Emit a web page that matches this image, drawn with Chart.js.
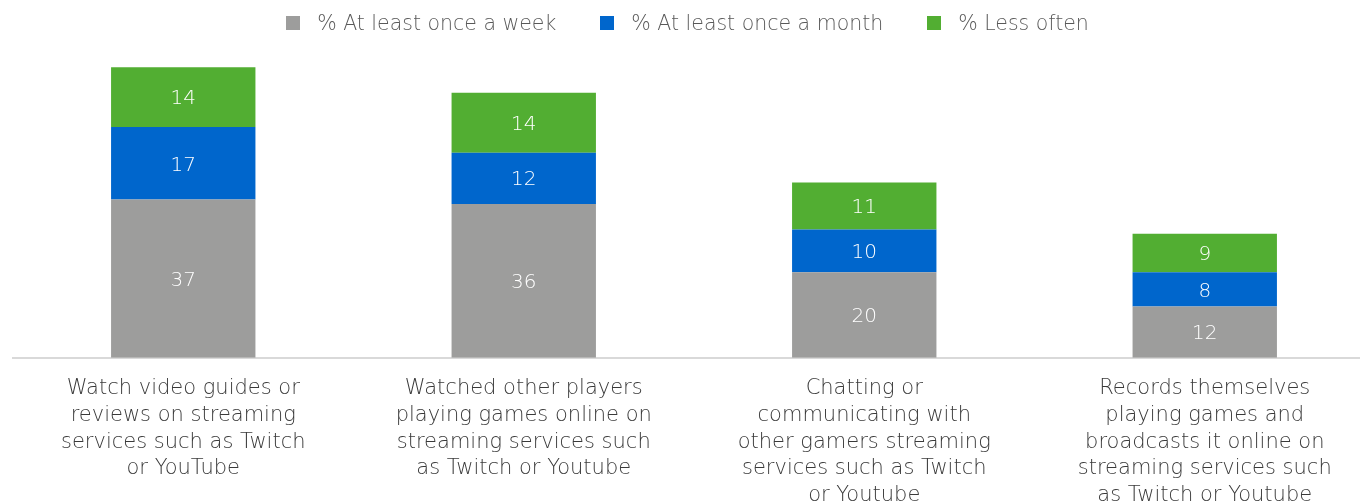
<!DOCTYPE html>
<html>
<head>
<meta charset="utf-8">
<script src="https://cdn.jsdelivr.net/npm/chart.js@4"></script>
<style>
  html, body { margin: 0; padding: 0; background: #fff; overflow: hidden; }
  #wrap { position: relative; width: 1375px; height: 519px; }
  #legend { position: absolute; top: 11px; left: 0; width: 1375px; display: flex; justify-content: center;
            padding-left: 0; box-sizing: border-box;
            font: 200 20.5px 'DejaVu Sans', sans-serif; color: #595959; z-index: 2; }
  .item { display: flex; align-items: center; margin: 0 22px; white-space: nowrap; }
  .box { width: 14px; height: 14px; margin-right: 17px; }
</style>
</head>
<body>
<div id="wrap">
  <div id="legend"></div>
  <canvas id="streamChart" width="1375" height="519"></canvas>
</div>
<script>
const categories = [
    ['Watch video guides or', 'reviews on streaming', 'services such as Twitch', 'or YouTube'],
    ['Watched other players', 'playing games online on', 'streaming services such', 'as Twitch or Youtube'],
    ['Chatting or', 'communicating with', 'other gamers streaming', 'services such as Twitch', 'or Youtube'],
    ['Records themselves', 'playing games and', 'broadcasts it online on', 'streaming services such', 'as Twitch or Youtube']
];
const weekly = [37, 36, 20, 12];
const monthly = [17, 12, 10, 8];
const lessOften = [14, 14, 11, 9];

const fontFamily = "'DejaVu Sans', sans-serif";

// white value labels in the middle of each segment
const segmentLabels = {
    id: 'segmentLabels',
    afterDatasetsDraw(chart) {
        const ctx = chart.ctx;
        ctx.save();
        ctx.fillStyle = '#ffffff';
        ctx.font = '200 20px ' + fontFamily;
        ctx.textAlign = 'center';
        ctx.textBaseline = 'middle';
        chart.data.datasets.forEach((ds, i) => {
            const meta = chart.getDatasetMeta(i);
            meta.data.forEach((bar, j) => {
                const mid = (bar.y + bar.base) / 2;
                ctx.fillText(String(ds.data[j]), bar.x, mid + 2);
            });
        });
        ctx.restore();
    }
};

const ctx = document.getElementById('streamChart').getContext('2d');
const streamChart = new Chart(ctx, {
    type: 'bar',
    data: {
        labels: categories,
        datasets: [
            { label: '% At least once a week', data: weekly, backgroundColor: '#9d9d9c' },
            { label: '% At least once a month', data: monthly, backgroundColor: '#0066cc' },
            { label: '% Less often', data: lessOften, backgroundColor: '#52ae32' }
        ]
    },
    options: {
        responsive: false,
        animation: false,
        layout: { padding: { left: 13, right: 0, top: 48, bottom: 0 } },
        datasets: {
            bar: { categoryPercentage: 1, barPercentage: 0.424 }
        },
        plugins: {
            legend: { display: false },
            tooltip: { enabled: false }
        },
        scales: {
            x: {
                stacked: true,
                grid: { display: false },
                border: { display: true, color: '#d9d9d9', width: 2 },
                ticks: {
                    color: '#3a3a3a',
                    padding: 10,
                    maxRotation: 0,
                    autoSkip: false,
                    font: { family: fontFamily, size: 21, weight: 200, lineHeight: 1.27 }
                }
            },
            y: {
                stacked: true,
                display: false,
                min: 0,
                max: 72.5
            }
        }
    },
    plugins: [segmentLabels]
});

// html legend built from the chart's datasets
document.getElementById('legend').innerHTML = streamChart.data.datasets.map(ds => `
    <div class="item"><span class="box" style="background:${ds.backgroundColor}"></span>${ds.label}</div>
`).join('');
</script>
</body>
</html>
